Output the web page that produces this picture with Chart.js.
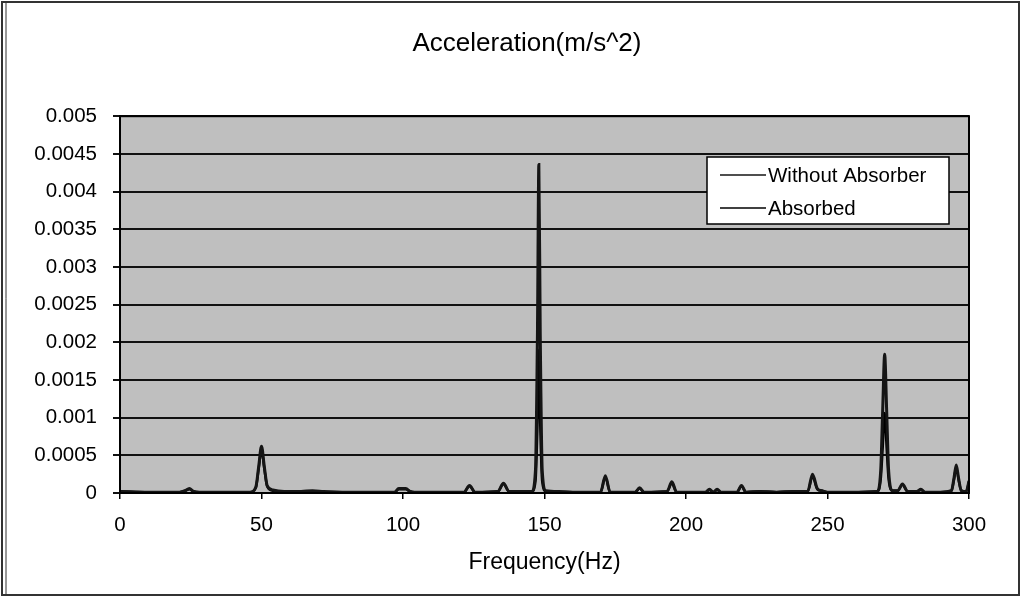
<!DOCTYPE html>
<html>
<head>
<meta charset="utf-8">
<title>Acceleration spectrum</title>
<script src="https://cdn.jsdelivr.net/npm/chart.js@4/dist/chart.umd.min.js"></script>
<style>
  html, body { margin: 0; padding: 0; background: #fff; }
  #wrap { width: 1022px; height: 598px; }
</style>
</head>
<body>
<div id="wrap"><canvas id="accelChart" width="1022" height="598"></canvas></div>
<script>
// Frequency (Hz) sample points
const frequency = [
  0, 10, 21, 23, 24.5, 26, 28,
  46, 48, 49, 50, 51, 52, 54, 58,
  64, 68, 72, 80, 97, 98.5, 101, 102.5, 104, 110,
  121.5, 123.5, 125.5, 133.5, 135.5, 137.5,
  145.5, 146.8, 147.5, 148, 148.5, 149.2, 150.5, 155, 160,
  169.8, 171.5, 173.2, 182, 183.6, 185.2, 193.3, 195, 196.7,
  206.8, 208.3, 209.6, 211, 212.4, 218, 219.6, 221.2,
  226, 232, 238, 243, 244.7, 246.4, 248, 250, 258,
  267.5, 268.8, 269.5, 270.2, 270.9, 271.6, 273,
  274.8, 276.5, 278.3, 281.5, 283, 284.5, 290,
  293.8, 294.7, 295.5, 296.3, 297.3, 299, 300
];

// Acceleration (m/s^2)
const withoutAbsorber = [
  0.00002, 0.00001, 0.00001, 0.00003, 0.00006, 0.00002, 0.00001,
  0.00001, 0.00008, 0.00035, 0.00062, 0.00035, 0.0001, 0.00004, 0.00002,
  0.00002, 0.00003, 0.00002, 0.00001, 0.00001, 0.00006, 0.00006, 0.00002, 0.00001, 0.00001,
  0.00001, 0.0001, 0.00001, 0.00002, 0.00013, 0.00002,
  0.00002, 0.0003, 0.0021, 0.00436, 0.0021, 0.0003, 0.00003, 0.00002, 0.00001,
  0.00001, 0.00023, 0.00001, 0.00001, 0.00007, 0.00001, 0.00002, 0.00015, 0.00001,
  0.00001, 0.00005, 0.00001, 0.00005, 0.00001, 0.00001, 0.0001, 0.00001,
  0.00002, 0.00001, 0.00002, 0.00002, 0.00025, 0.00006, 0.00003, 0.00001, 0.00001,
  0.00002, 0.0003, 0.0011, 0.00184, 0.0011, 0.0003, 0.00003,
  0.00003, 0.00012, 0.00002, 0.00002, 0.00005, 0.00001, 0.00001,
  0.00003, 0.0002, 0.00037, 0.0002, 0.00003, 0.00002, 0.00016
];

const absorbed = [
  0.00002, 0.00001, 0.00001, 0.00003, 0.00005, 0.00002, 0.00001,
  0.00001, 0.00007, 0.00032, 0.00057, 0.00032, 0.00009, 0.00003, 0.00002,
  0.00002, 0.00002, 0.00001, 0.00001, 0.00001, 0.00005, 0.00005, 0.00002, 0.00001, 0.00001,
  0.00001, 0.00009, 0.00001, 0.00002, 0.00012, 0.00002,
  0.00002, 0.00015, 0.0009, 0.0019, 0.0009, 0.00015, 0.00002, 0.00001, 0.00001,
  0.00001, 0.00021, 0.00001, 0.00001, 0.00006, 0.00001, 0.00002, 0.00013, 0.00001,
  0.00001, 0.00004, 0.00001, 0.00004, 0.00001, 0.00001, 0.00009, 0.00001,
  0.00002, 0.00001, 0.00002, 0.00002, 0.00022, 0.00005, 0.00003, 0.00001, 0.00001,
  0.00002, 0.00018, 0.0006, 0.00106, 0.0006, 0.00018, 0.00003,
  0.00003, 0.00011, 0.00002, 0.00002, 0.00004, 0.00001, 0.00001,
  0.00003, 0.00018, 0.00034, 0.00018, 0.00003, 0.00002, 0.00015
];

const xTicks = { min: 0, max: 300, step: 50 };
const yTicks = { min: 0, max: 0.005, step: 0.0005 };

const FONT = "'Liberation Sans', Arial, sans-serif";

const toPoints = (vals) => frequency.map((f, i) => ({ x: f, y: vals[i] }));

// gray plot area, outer frame, plot border
const plotFrame = {
  id: "plotFrame",
  beforeDraw(chart) {
    const { ctx, chartArea: a, width, height } = chart;
    ctx.save();
    ctx.fillStyle = "#fff";
    ctx.fillRect(0, 0, width, height);
    ctx.fillStyle = "#bfbfbf";
    ctx.fillRect(a.left, a.top, a.right - a.left, a.bottom - a.top);
    ctx.restore();
  },
  afterDraw(chart) {
    const { ctx, chartArea: a, width, height } = chart;
    ctx.save();
    ctx.strokeStyle = "#000";
    ctx.lineWidth = 2;
    ctx.strokeRect(a.left, a.top, a.right - a.left, a.bottom - a.top);
    ctx.strokeStyle = "#333";
    ctx.lineWidth = 2;
    ctx.strokeRect(2, 2, width - 5, height - 5);
    ctx.beginPath();
    ctx.moveTo(6, 2);
    ctx.lineTo(6, height - 3);
    ctx.lineWidth = 1;
    ctx.stroke();
    ctx.restore();
  }
};

// legend box sitting inside the plot, top right
const insideLegend = {
  id: "insideLegend",
  afterDraw(chart) {
    const { ctx } = chart;
    const box = { x: 707, y: 157, w: 242, h: 67 };
    ctx.save();
    ctx.fillStyle = "#fff";
    ctx.fillRect(box.x, box.y, box.w, box.h);
    ctx.strokeStyle = "#000";
    ctx.lineWidth = 1.5;
    ctx.strokeRect(box.x, box.y, box.w, box.h);
    ctx.font = "20.5px " + FONT;
    ctx.textBaseline = "middle";
    ctx.fillStyle = "#000";
    chart.data.datasets.forEach((ds, i) => {
      const y = box.y + 18 + i * 33;
      ctx.strokeStyle = ds.borderColor;
      ctx.lineWidth = 1.5;
      ctx.beginPath();
      ctx.moveTo(box.x + 13, y);
      ctx.lineTo(box.x + 59, y);
      ctx.stroke();
      ctx.fillText(ds.label, box.x + 61, y + 1);
    });
    ctx.restore();
  }
};

new Chart(document.getElementById("accelChart"), {
  type: "line",
  data: {
    datasets: [
      {
        label: "Without Absorber",
        data: toPoints(withoutAbsorber),
        borderColor: "#151515",
        borderWidth: 3,
        pointRadius: 0,
        cubicInterpolationMode: "monotone"
      },
      {
        label: "Absorbed",
        data: toPoints(absorbed),
        borderColor: "#000",
        borderWidth: 2.5,
        pointRadius: 0,
        cubicInterpolationMode: "monotone"
      }
    ]
  },
  options: {
    responsive: false,
    animation: false,
    layout: { padding: { left: 32, right: 0, top: 0, bottom: 0 } },
    plugins: {
      legend: { display: false },
      tooltip: { enabled: false },
      title: {
        display: true,
        text: "Acceleration(m/s^2)",
        color: "#000",
        font: { family: FONT, size: 26, weight: "normal" },
        padding: { top: 28, bottom: 57 }
      }
    },
    scales: {
      x: {
        type: "linear",
        min: xTicks.min,
        max: xTicks.max,
        afterFit: (s) => { s.height = 105; },
        ticks: {
          stepSize: xTicks.step,
          color: "#000",
          padding: 14,
          maxRotation: 0,
          font: { family: FONT, size: 20.5 }
        },
        grid: { drawOnChartArea: false, drawTicks: true, tickLength: 6, tickColor: "#000", lineWidth: 1.5 },
        border: { color: "#000", width: 2 },
        title: {
          display: true,
          text: "Frequency(Hz)",
          color: "#000",
          font: { family: FONT, size: 23 },
          padding: { top: 0, bottom: 22 }
        }
      },
      y: {
        min: yTicks.min,
        max: yTicks.max,
        afterFit: (s) => { s.width = 88; },
        ticks: {
          stepSize: yTicks.step,
          color: "#000",
          padding: 16,
          font: { family: FONT, size: 20.5 },
          callback: (v) => String(Number(v.toFixed(4)))
        },
        grid: { color: "#111", lineWidth: 2, tickLength: 7 },
        border: { color: "#000", width: 2 }
      },
      spacer: {
        position: "right",
        display: true,
        afterFit: (s) => { s.width = 53; },
        ticks: { display: false },
        grid: { display: false },
        border: { display: false }
      }
    }
  },
  plugins: [plotFrame, insideLegend]
});
</script>
</body>
</html>
